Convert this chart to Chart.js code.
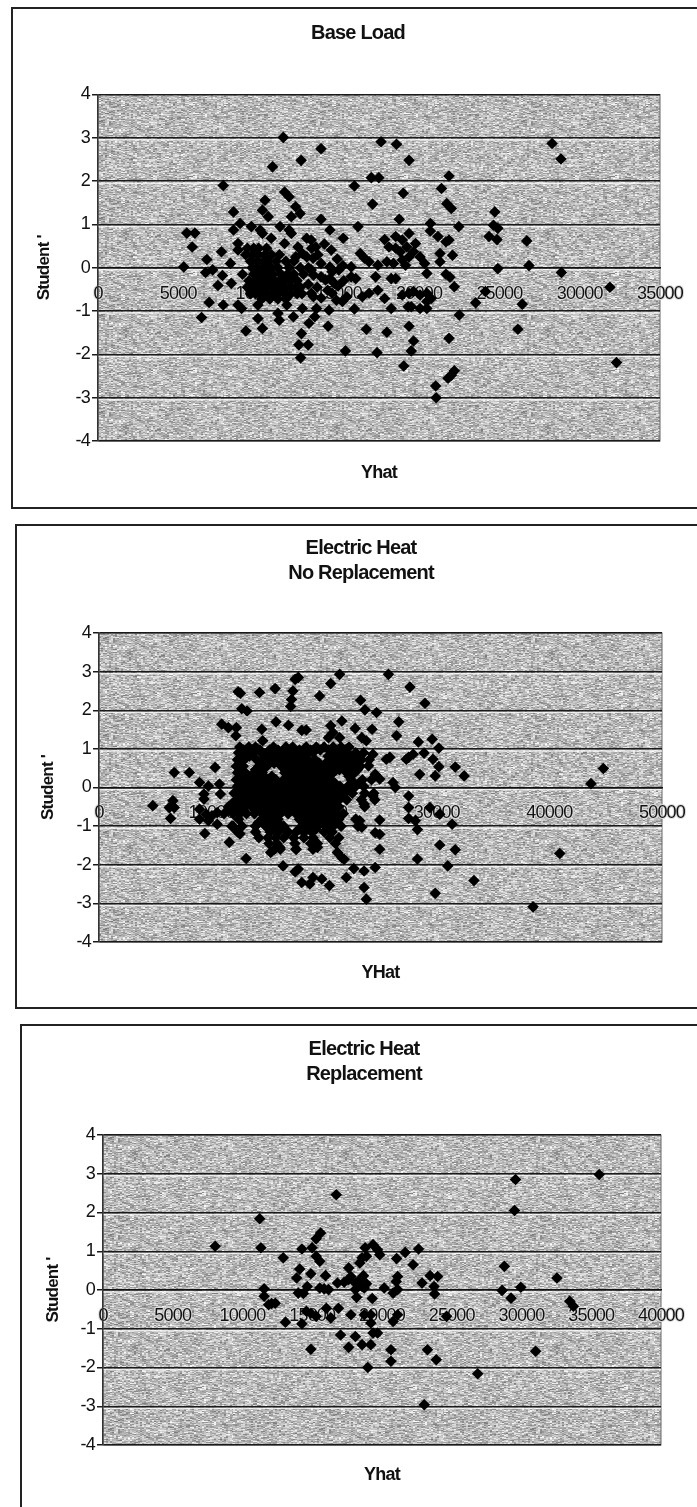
<!DOCTYPE html>
<html>
<head>
<meta charset="utf-8">
<title>Studentized residuals vs Yhat</title>
<script src="https://cdn.jsdelivr.net/npm/chart.js@4/dist/chart.umd.min.js"></script>
<style>
    html, body { margin: 0; padding: 0; background: #fff; overflow: hidden; width: 697px; height: 1507px; }
    .frame { position: absolute; border: 2px solid #222; border-right: none; box-sizing: border-box; }
    .frame canvas { display: block; filter: blur(0.4px); }
</style>
</head>
<body>
<div class="frame" style="left:11px;top:7px;width:694px;height:502px"><canvas id="chart1"></canvas></div>
<div class="frame" style="left:15px;top:524px;width:692px;height:485px"><canvas id="chart2"></canvas></div>
<div class="frame" style="left:20px;top:1024px;width:688px;height:490px"><canvas id="chart3"></canvas></div>
<script>
const yTicks = [-4, -3, -2, -1, 0, 1, 2, 3, 4];

const baseLoadPoints = [
    [5340,0.02],[5530,0.8],[6030,0.8],[5870,0.48],[6780,0.19],[6700,-0.11],[7140,-0.05],[6450,-1.15],[6920,-0.8],[7470,-0.41],
    [7800,1.9],[7690,0.37],[7800,-0.86],[7750,-0.18],[8250,0.1],[8440,1.29],[8440,0.87],[8850,1.02],[8720,0.56],[8720,0.41],
    [8300,-0.36],[8720,-0.86],[8940,-0.94],[9210,-1.46],[9550,0.95],[10100,0.87],[10240,0.79],[10400,1.56],[10240,1.33],[10600,1.18],
    [10870,2.33],[11540,3.01],[11620,1.75],[11900,1.64],[12310,1.41],[12040,1.18],[12590,1.25],[12650,2.48],[13890,2.75],[13890,1.12],
    [14440,0.87],[15270,0.68],[16190,0.95],[15970,1.89],[11340,0.95],[11900,0.87],[12040,0.79],[13280,0.64],[13560,0.48],[14530,0.41],
    [11620,0.56],[10790,0.68],[9960,-1.17],[10240,-1.4],[11290,-1.21],[12170,-1.13],[12670,-1.52],[12510,-1.78],[13090,-1.78],[12620,-2.08],
    [13140,-1.28],[13500,-1.13],[14330,-1.35],[14390,-0.98],[13610,-0.94],[12730,-0.94],[11760,-0.86],[11210,-1.05],[9960,-0.86],
    // dense group left of 13000
    [9300,0.45],[9700,0.45],[10000,0.45],[10500,0.45],
    [9200,0.3],[9600,0.3],[10000,0.3],[10400,0.3],[10800,0.3],[11300,0.3],
    [9500,0.15],[9900,0.15],[10300,0.15],[10600,0.15],[11100,0.15],[11700,0.15],[12200,0.15],
    [9600,0],[9900,0],[10200,0],[10500,0],[10800,0],[11200,0],[11900,0],[12600,0],[13100,0],
    [9000,-0.15],[9700,-0.15],[10000,-0.15],[10300,-0.15],[10600,-0.15],[10900,-0.15],[11400,-0.15],[11800,-0.15],[12200,-0.15],[12800,-0.15],
    [9400,-0.3],[9800,-0.3],[10100,-0.3],[10400,-0.3],[10700,-0.3],[11000,-0.3],[11300,-0.3],[11600,-0.3],[12000,-0.3],[12400,-0.3],
    [9300,-0.45],[9600,-0.45],[9900,-0.45],[10200,-0.45],[10500,-0.45],[10800,-0.45],[11100,-0.45],[11400,-0.45],[11700,-0.45],[12000,-0.45],[12300,-0.45],[12600,-0.45],
    [9500,-0.6],[9800,-0.6],[10100,-0.6],[10500,-0.6],[10900,-0.6],[11200,-0.6],[11600,-0.6],[12000,-0.6],[12400,-0.6],[12700,-0.6],
    [10200,-0.72],[10700,-0.72],[11200,-0.72],[11700,-0.72],
    // right of the dense group
    [13000,0.68],[13300,0.45],[13000,0.25],[13400,0.22],[13890,0.1],[14440,0.02],[14580,-0.09],[14170,-0.28],[14720,-0.36],
    [12730,0.33],[12450,0.48],[12310,0.25],[13280,-0.05],[13420,-0.17],[13890,-0.21],[14440,-0.25],[15000,-0.05],
    [13700,0.3],[14100,0.55],[14900,0.2],[15250,0.05],[13100,-0.38],[13650,-0.45],[14950,-0.42],[15300,-0.3],[13900,-0.7],[14850,-0.75],
    [13280,-0.59],[13420,-0.67],[14300,-0.52],[14580,-0.59],[15220,-0.78],[15500,-0.67],[15770,-0.21],[15770,0.02],[16050,-0.25],
    [15970,-0.95],[15410,-1.92],[16460,-0.67],[16880,-0.59],[17430,-0.52],[16710,-1.42],[17380,-1.96],[17990,-1.49],[18260,-0.94],[17850,-0.71],
    [17290,-0.21],[18260,-0.25],[18540,-0.25],[17100,1.47],[17020,2.08],[17490,2.08],[17630,2.91],[18590,2.85],[19370,2.48],[19010,1.72],
    [18760,1.12],[16330,0.33],[16600,0.22],[16880,0.14],[17430,0.06],[17990,0.14],[18400,0.1],[17850,0.65],[18540,0.72],[19370,0.79],
    [18120,0.48],[18540,0.45],[18950,0.64],[19230,0.48],[19780,0.56],[19650,0.37],[20060,0.25],[18820,0.37],[18950,0.18],[19370,0.25],
    [19150,0.06],[20340,0.1],[20700,1.02],[20700,0.85],[21170,0.72],[21670,0.6],[21860,0.64],[21300,0.33],[21300,0.14],[22080,0.29],
    [20480,-0.13],[21670,-0.15],[21920,-0.22],[22190,-0.44],[18950,-0.63],[19370,-0.59],[19650,-0.55],[20060,-0.63],[20480,-0.59],[19510,-0.9],
    [20060,-0.94],[20480,-0.94],[20750,-0.71],[20480,-0.78],[19310,-0.9],[19370,-1.35],[19650,-1.69],[19510,-1.92],[19040,-2.27],[21030,-2.73],
    [21060,-3],[22190,-2.38],[22000,-2.48],[21800,-2.55],[21860,-1.63],[22500,-1.09],[22470,0.95],[21390,1.83],[21860,2.12],[21720,1.48],
    [22000,1.37],[23520,-0.81],[24130,-0.55],[24350,0.72],[24630,0.98],[24710,1.29],[24900,0.91],[24850,0.65],[24900,-0.02],[26420,-0.84],
    [26150,-1.42],[26700,0.62],[26840,0.05],[28280,2.87],[28830,2.51],[28860,-0.11],[31880,-0.45],[32290,-2.19]
];

const noReplacementPoints = [
    [4780,-0.47],[6560,-0.34],[6680,0.39],[8020,0.39],[6240,-0.52],[6680,-0.52],[6360,-0.8],[8930,0.13],[9720,0.04],[10310,0.52],
    [10700,0.09],[9320,-0.17],[9320,-0.3],[10780,-0.17],[8930,-0.56],[9520,-0.69],[10030,-0.73],[10500,-0.65],[10500,-0.95],[9720,-0.86],
    [8930,-0.82],[9400,-1.19],[10900,1.64],[11490,1.55],[12200,1.55],[12160,1.34],[11570,-1.42],[11900,-1],[12520,-1.2],[13070,-1.84],
    [12360,2.48],[12560,2.44],[12680,2.04],[13150,1.98],[14260,2.46],[15640,2.56],[17420,2.8],[17700,2.85],[17220,2.5],[17100,2.28],
    [17020,2.1],[19590,2.37],[20580,2.69],[21370,2.93],[23230,2.26],[23620,2.01],[24650,1.94],[25710,2.93],[27610,2.6],[28950,2.18],
    [26620,1.7],[26430,1.34],[28360,1.18],[29590,1.25],[30180,1.02],[25830,0.78],[25520,0.73],[27500,0.78],[27900,0.86],[27290,0.73],
    [28870,0.89],[29660,0.73],[30180,0.54],[29860,0.3],[28480,0.34],[31640,0.53],[32430,0.3],[26110,0.13],[26310,0],[27500,-0.22],
    [27500,-0.52],[27500,-0.8],[28090,-0.86],[28280,-1.09],[29390,-0.52],[30260,-0.69],[31360,-0.95],[30260,-1.49],[31640,-1.61],[28280,-1.85],
    [30970,-2.03],[29860,-2.74],[33300,-2.41],[38550,-3.09],[40920,-1.71],[43690,0.1],[44790,0.49],[24930,-0.84],[24930,-1.6],[24530,-1.17],
    [24930,-1.21],[24530,-2.07],[23540,-2.16],[22630,-2.1],[23540,-2.59],[23740,-2.89],[21960,-2.33],[20460,-2.54],[18720,-2.5],[18010,-2.46],
    [19000,-2.33],[19790,-2.37],[17420,-2.18],[17700,-2.11],[16350,-2.03],[15250,-1.68],[16050,-1.55],[17500,-1.6],[19400,-1.55],[21170,-1.68],
    [21770,-1.86],[21570,-1.82],
    // upper edge of the dense block
    [14460,1.51],[14540,1.21],[15720,1.7],[16830,1.61],[18010,1.48],[18410,1.49],[20580,1.6],[21570,1.72],[20780,1.42],[21370,1.29],
    [20380,1.29],[22750,1.53],[24250,1.51],[23340,1.29],[23740,1.21],[24330,0.86],[23940,0.56],[24530,0.34],[24930,0.22],[23540,-0.43],
    [24330,-0.22],[23150,-0.86],[23340,-1.03],
    // dense block, read row by row
    [12500,1.05],[13300,1.05],[13900,1.05],[15500,1.05],[16600,1.05],[17200,1.05],[18400,1.05],[19300,1.05],[20000,1.05],[20800,1.05],[21500,1.05],[22200,1.05],
    [12400,0.9],[13000,0.9],[13700,0.9],[14400,0.9],[15000,0.9],[15700,0.9],[16400,0.9],[17100,0.9],[17800,0.9],[18500,0.9],[19000,0.9],[20700,0.9],[21400,0.9],[22100,0.9],[22800,0.9],[23500,0.9],
    [12300,0.72],[12900,0.72],[14000,0.72],[14600,0.72],[15200,0.72],[15900,0.72],[16700,0.72],[17300,0.72],[18000,0.72],[18600,0.72],[19200,0.72],[20500,0.72],[21200,0.72],[21900,0.72],[22600,0.72],[23300,0.72],[24000,0.72],
    [12200,0.55],[12800,0.55],[14200,0.55],[14900,0.55],[16200,0.55],[16900,0.55],[17600,0.55],[18300,0.55],[19000,0.55],[19700,0.55],[20400,0.55],[21100,0.55],[21800,0.55],[22500,0.55],[23200,0.55],
    [12300,0.38],[13000,0.38],[13800,0.38],[14500,0.38],[16500,0.38],[17200,0.38],[18000,0.38],[18700,0.38],[19400,0.38],[20100,0.38],[20800,0.38],[22000,0.38],[22700,0.38],
    [12200,0.2],[12900,0.2],[13600,0.2],[14300,0.2],[15000,0.2],[15700,0.2],[16400,0.2],[17100,0.2],[17800,0.2],[18500,0.2],[19200,0.2],[19900,0.2],[20600,0.2],[22400,0.2],[23400,0.2],[24200,0.2],
    [12300,0.03],[13000,0.03],[13700,0.03],[14400,0.03],[15100,0.03],[15800,0.03],[16500,0.03],[17200,0.03],[17900,0.03],[18600,0.03],[19300,0.03],[20000,0.03],[20700,0.03],[21400,0.03],[22100,0.03],[22800,0.03],[23500,0.03],
    [12000,-0.15],[12700,-0.15],[13400,-0.15],[14100,-0.15],[14800,-0.15],[15500,-0.15],[16200,-0.15],[16900,-0.15],[17600,-0.15],[18300,-0.15],[19000,-0.15],[19700,-0.15],[20400,-0.15],[21100,-0.15],[21800,-0.15],[22500,-0.15],[23600,-0.15],[24400,-0.15],
    [12200,-0.32],[12900,-0.32],[13600,-0.32],[14300,-0.32],[15000,-0.32],[15700,-0.32],[16400,-0.32],[17100,-0.32],[17800,-0.32],[18500,-0.32],[19200,-0.32],[19900,-0.32],[20600,-0.32],[21300,-0.32],[22000,-0.32],[23300,-0.32],[24500,-0.32],
    [11500,-0.5],[12200,-0.5],[12900,-0.5],[13600,-0.5],[14300,-0.5],[15000,-0.5],[15700,-0.5],[16400,-0.5],[17100,-0.5],[17800,-0.5],[18500,-0.5],[19200,-0.5],[19900,-0.5],[20600,-0.5],[21300,-0.5],[23600,-0.5],
    [11100,-0.68],[11900,-0.68],[12500,-0.68],[13100,-0.68],[13800,-0.68],[14500,-0.68],[15300,-0.68],[16100,-0.68],[16800,-0.68],[17500,-0.68],[18200,-0.68],[18900,-0.68],[19600,-0.68],[20300,-0.68],[21000,-0.68],[21700,-0.68],
    [12400,-0.82],[14500,-0.82],[15200,-0.82],[15900,-0.82],[17800,-0.82],[18500,-0.82],[19200,-0.82],[19900,-0.82],[20600,-0.82],[21300,-0.82],[22800,-0.82],
    [11800,-1],[12700,-1],[13900,-1],[14800,-1],[15500,-1],[16200,-1],[16400,-1],[18000,-1],[18700,-1],[19400,-1],[20100,-1],[20800,-1],[21500,-1],[23000,-1],
    [12300,-1.15],[13900,-1.15],[15200,-1.15],[15900,-1.15],[16800,-1.15],[17500,-1.15],[18200,-1.15],[18900,-1.15],[20000,-1.15],[20700,-1.15],
    [14200,-1.3],[15000,-1.3],[15700,-1.3],[16400,-1.3],[17300,-1.3],[18200,-1.3],[19000,-1.3],[20500,-1.3],[21300,-1.3],
    [15100,-1.45],[15800,-1.45],[17400,-1.45],[18800,-1.45],[19400,-1.45],[21000,-1.45],
    [15600,-1.6],[16100,-1.6],[17500,-1.6],[19000,-1.6],
    // in-between marks that close up the block
    [12850,0.97],[13600,0.97],[14300,0.97],[15150,0.97],[15900,0.97],[16900,0.97],[17800,0.97],[18800,0.97],[19650,0.97],[20400,0.97],[21150,0.97],[21900,0.97],
    [12650,0.81],[13350,0.81],[14750,0.81],[15350,0.81],[16050,0.81],[16750,0.81],[17450,0.81],[18150,0.81],[20350,0.81],[21050,0.81],[21750,0.81],[22450,0.81],[23150,0.81],
    [12550,0.63],[14350,0.63],[15550,0.63],[16300,0.63],[17000,0.63],[17650,0.63],[18300,0.63],[18950,0.63],[19550,0.63],[20150,0.63],[20850,0.63],[21550,0.63],[22250,0.63],[22950,0.63],
    [12550,0.46],[13900,0.46],[14550,0.46],[16550,0.46],[17250,0.46],[17950,0.46],[18650,0.46],[19350,0.46],[20050,0.46],[20750,0.46],[21350,0.46],[22250,0.46],[22950,0.46],
    [12600,0.29],[13250,0.29],[13950,0.29],[14650,0.29],[15350,0.29],[16750,0.29],[17450,0.29],[18150,0.29],[18850,0.29],[19550,0.29],[20250,0.29],[22200,0.29],
    [12550,0.11],[13250,0.11],[13950,0.11],[14650,0.11],[15350,0.11],[16050,0.11],[16750,0.11],[17450,0.11],[18150,0.11],[18850,0.11],[19550,0.11],[20250,0.11],[20950,0.11],[22600,0.11],[23100,0.11],
    [12350,-0.06],[13050,-0.06],[13750,-0.06],[14450,-0.06],[15150,-0.06],[15850,-0.06],[16550,-0.06],[17250,-0.06],[17950,-0.06],[18650,-0.06],[19350,-0.06],[20050,-0.06],[20750,-0.06],[21450,-0.06],[22150,-0.06],
    [12550,-0.24],[13250,-0.24],[13950,-0.24],[14650,-0.24],[15350,-0.24],[16050,-0.24],[16750,-0.24],[17450,-0.24],[18150,-0.24],[18850,-0.24],[19550,-0.24],[20250,-0.24],[20950,-0.24],[21650,-0.24],
    [11850,-0.41],[12550,-0.41],[13250,-0.41],[13950,-0.41],[14650,-0.41],[15350,-0.41],[16050,-0.41],[16750,-0.41],[17450,-0.41],[18150,-0.41],[18850,-0.41],[19550,-0.41],[20250,-0.41],[20950,-0.41],
    [11500,-0.59],[12250,-0.59],[12850,-0.59],[13850,-0.59],[14650,-0.59],[15350,-0.59],[16050,-0.59],[16750,-0.59],[17450,-0.59],[18150,-0.59],[18850,-0.59],[19550,-0.59],[20250,-0.59],[20950,-0.59],
    [14850,-0.75],[15550,-0.75],[18150,-0.75],[18850,-0.75],[19550,-0.75],[20250,-0.75],[20950,-0.75],
    [14150,-0.91],[15150,-0.91],[15850,-0.91],[18350,-0.91],[19050,-0.91],[19750,-0.91],[20450,-0.91],[21150,-0.91],
    [15550,-1.08],[17850,-1.08],[18550,-1.08],[19250,-1.08],[20350,-1.08]
];

const replacementPoints = [
    [8040,1.13],[11230,1.84],[11320,1.09],[11550,0.03],[11550,-0.16],[12350,-0.34],[11870,-0.38],[12090,-0.35],[12920,0.83],[13080,-0.83],
    [13880,0.31],[14100,0.54],[14260,1.06],[14000,-0.08],[14360,-0.09],[14640,0.09],[14260,-0.87],[14580,-0.55],[14900,0.42],[14990,1.09],
    [15280,1.32],[15600,1.47],[15280,0.87],[15540,0.74],[15950,0.37],[15540,0.05],[16170,0.01],[15850,0.03],[14900,-0.6],[15280,-0.68],
    [14900,-1.53],[16010,-0.47],[16330,-0.72],[16880,-0.47],[16720,2.46],[17030,-1.16],[17610,-1.48],[18090,-1.2],[18570,-1.41],[19200,-1.41],
    [18980,-2],[19360,-1.11],[19680,-1.11],[19200,-0.85],[17770,-0.64],[18730,-0.64],[19200,-0.64],[19300,-0.22],[18180,-0.19],[16810,0.18],
    [17290,0.2],[17610,0.27],[17770,0.35],[18090,0.18],[17610,0.57],[18410,0.27],[18670,0.37],[18570,0.09],[18890,0.16],[18090,0.01],
    [18730,0.05],[18410,0.7],[18570,0.83],[18790,1.09],[19360,1.17],[19680,1.04],[19840,0.91],[18890,0.87],[20160,0.05],[20800,-0.08],
    [21120,0.01],[20800,-0.81],[21120,-0.64],[21120,0.35],[21020,0.22],[21050,0.81],[21660,0.97],[22230,0.65],[22620,1.06],[22870,0.18],
    [23450,0.37],[23990,0.35],[23730,0.09],[23770,-0.1],[20640,-1.54],[20640,-1.84],[23260,-1.54],[23890,-1.8],[23030,-2.96],[24630,-0.68],
    [26860,-2.16],[28770,0.61],[28610,-0.01],[29250,-0.21],[29950,0.07],[29570,2.85],[29500,2.05],[31010,-1.58],[32540,0.31],[33460,-0.29],
    [33720,-0.42],[35570,2.98]
];

// scanned halftone look behind the plot, not data
function makeTexture(ctx) {
    const w = 211, h = 97;
    const c = document.createElement('canvas');
    c.width = w;
    c.height = h;
    const tc = c.getContext('2d');
    const img = tc.createImageData(w, h);
    for (let y = 0; y < h; y++) {
        for (let x = 0; x < w; x++) {
            const n = Math.abs(Math.sin(Math.floor(x / 2) * 12.9898 + y * 78.233) * 43758.5453) % 1;
            const m = Math.abs(Math.sin(Math.floor(x / 4) * 4.1414 + y * 37.719) * 24634.6345) % 1;
            const v = 118 + 137 * (n * 0.6 + m * 0.4);
            const i = (y * w + x) * 4;
            img.data[i] = img.data[i + 1] = img.data[i + 2] = v;
            img.data[i + 3] = 255;
        }
    }
    tc.putImageData(img, 0, 0);
    return ctx.createPattern(c, 'repeat');
}

const plotBackground = {
    id: 'plotBackground',
    beforeDraw(chart) {
        const { ctx, chartArea: a, scales } = chart;
        ctx.letterSpacing = '-0.8px';
        ctx.save();
        ctx.fillStyle = makeTexture(ctx);
        ctx.fillRect(a.left, a.top, a.width, a.height);
        ctx.strokeStyle = '#666';
        ctx.lineWidth = 1;
        ctx.strokeRect(a.left, a.top, a.width, a.height);
        // light ghost under each gridline, from the scan
        ctx.strokeStyle = 'rgba(255,255,255,0.75)';
        ctx.lineWidth = 1.5;
        yTicks.slice(1, -1).forEach(t => {
            const y = scales.y.getPixelForValue(t) + 2;
            ctx.beginPath();
            ctx.moveTo(a.left, y);
            ctx.lineTo(a.right, y);
            ctx.stroke();
        });
        ctx.restore();
    }
};

const fontFamily = "'Liberation Sans', Arial, sans-serif";

function makeChart(id, opts) {
    const canvas = document.getElementById(id);
    canvas.width = opts.width;
    canvas.height = opts.height;
    // the title sits right of the canvas centre in the original
    const titleShift = { id: 'titleShift', afterLayout(c) { c.titleBlock.right += opts.titleShift; } };
    return new Chart(canvas, {
        type: 'scatter',
        data: {
            datasets: [{
                data: opts.points.map(p => ({ x: p[0], y: p[1] })),
                pointStyle: 'rectRot',
                pointRadius: 5.8,
                backgroundColor: '#000',
                borderColor: '#000',
                borderWidth: 0
            }]
        },
        options: {
            responsive: false,
            animation: false,
            devicePixelRatio: 1,
            layout: { padding: { left: 0, top: 0, bottom: 0, right: opts.right } },
            plugins: {
                legend: { display: false },
                tooltip: { enabled: false },
                title: {
                    display: true,
                    text: opts.title,
                    color: '#111',
                    font: { family: fontFamily, size: 20, weight: 'bold', lineHeight: 1.25 },
                    padding: opts.titlePad
                },
                subtitle: {
                    display: true,
                    position: 'bottom',
                    fullSize: false,
                    text: opts.xTitle,
                    color: '#111',
                    font: { family: fontFamily, size: 18, weight: 'bold', lineHeight: 1.2 },
                    padding: opts.xTitlePad
                }
            },
            scales: {
                x: {
                    type: 'linear',
                    min: 0,
                    max: opts.xMax,
                    position: { y: 0 },
                    grid: { display: false },
                    border: { display: true, color: '#111', width: 1.5 },
                    ticks: {
                        stepSize: opts.xStep,
                        autoSkip: false,
                        maxRotation: 0,
                        padding: 7,
                        color: '#111',
                        textStrokeColor: '#ddd',
                        textStrokeWidth: 2,
                        font: { family: fontFamily, size: 18 },
                        callback: v => String(v)
                    }
                },
                y: {
                    type: 'linear',
                    min: yTicks[0],
                    max: yTicks[yTicks.length - 1],
                    afterFit(scale) { scale.width = opts.yWidth; },
                    title: {
                        display: true,
                        text: "Student '",
                        color: '#111',
                        font: { family: fontFamily, size: 17, weight: 'bold', lineHeight: 1.2 },
                        padding: { top: 21, bottom: 0 }
                    },
                    grid: {
                        color: '#1a1a1a',
                        lineWidth: 1.5,
                        tickLength: 6
                    },
                    border: { display: true, color: '#333', width: 1.5 },
                    ticks: {
                        stepSize: 1,
                        padding: 2,
                        color: '#111',
                        font: { family: fontFamily, size: 18 }
                    }
                }
            }
        },
        plugins: [plotBackground, titleShift]
    });
}

makeChart('chart1', {
    width: 692, height: 498, points: baseLoadPoints,
    title: 'Base Load', titlePad: { top: 11.5, bottom: 49 }, titleShift: 43,
    xTitle: 'Yhat', xTitlePad: { top: 21, bottom: 23.4 },
    xMax: 35000, xStep: 5000, yWidth: 85, right: 45
});
makeChart('chart2', {
    width: 690, height: 481, points: noReplacementPoints,
    title: ['Electric Heat', 'No Replacement'], titlePad: { top: 10, bottom: 47 }, titleShift: 43,
    xTitle: 'YHat', xTitlePad: { top: 20, bottom: 23.4 },
    xMax: 50000, xStep: 10000, yWidth: 82, right: 45
});
makeChart('chart3', {
    width: 686, height: 486, points: replacementPoints,
    title: ['Electric Heat', 'Replacement'], titlePad: { top: 10.5, bottom: 48.5 }, titleShift: 45,
    xTitle: 'Yhat', xTitlePad: { top: 19, bottom: 26.4 },
    xMax: 40000, xStep: 5000, yWidth: 81, right: 47
});
</script>
</body>
</html>
